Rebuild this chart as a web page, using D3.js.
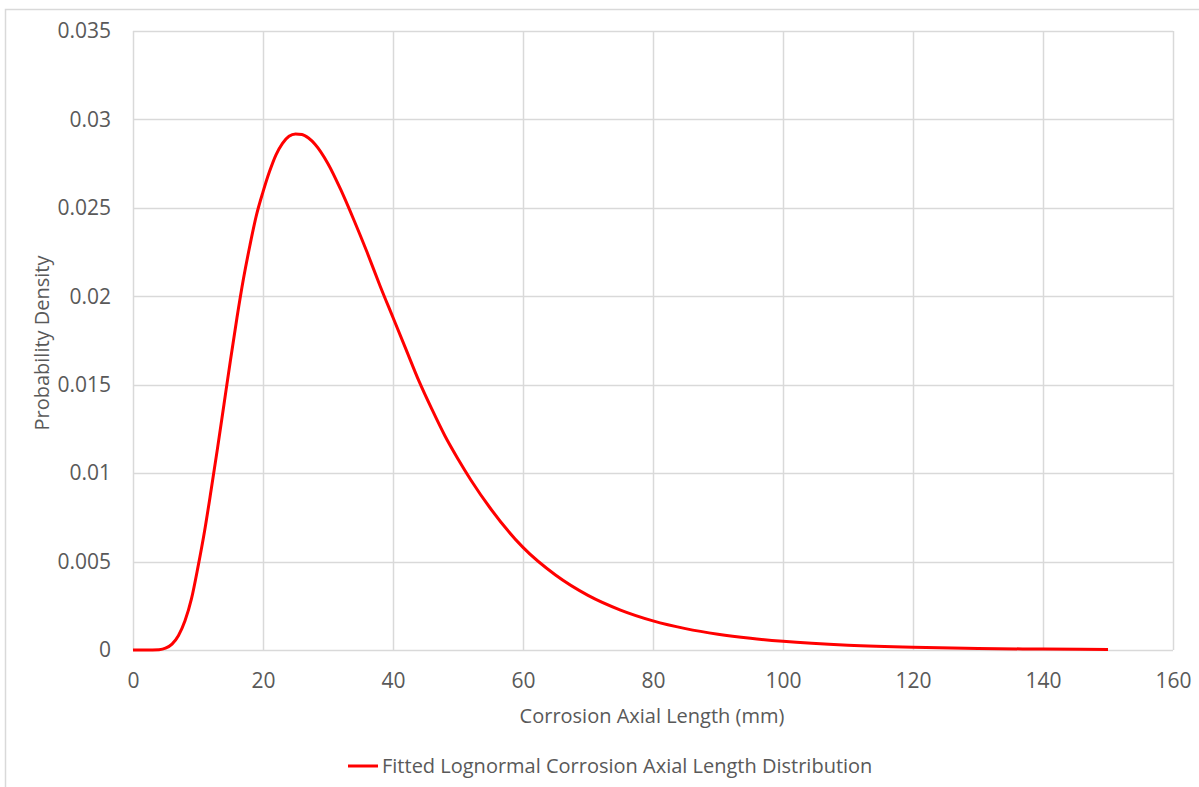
<!DOCTYPE html>
<html>
<head>
<meta charset="utf-8">
<script src="https://cdn.jsdelivr.net/npm/d3@7"></script>
<style>
  html, body { margin: 0; padding: 0; background: #ffffff; }
  svg { display: block; }
  text { font-family: "Open Sans", "Noto Sans", sans-serif; fill: #595959; }
</style>
</head>
<body>
<svg id="chart" width="1199" height="787"></svg>
<script>
// Fitted lognormal density of corrosion axial length (mm)
const axialLength = [0, 2, 4, 5, 6, 7, 8, 9, 10, 11, 12, 13, 14, 15, 16, 17, 18, 19, 20,
  21, 22, 23, 24, 25, 26, 27, 28, 30, 32, 34, 36, 38, 40, 42, 44, 46, 48, 50, 52, 55,
  60, 65, 70, 75, 80, 85, 90, 95, 100, 110, 120, 130, 140, 150];
const density = [0, 0, 0.00002, 0.0001, 0.00033, 0.00082, 0.00165, 0.0029, 0.0047, 0.0067,
  0.0090, 0.0114, 0.0139, 0.0164, 0.0188, 0.0210, 0.0229, 0.0246, 0.0259,
  0.02705, 0.0280, 0.02865, 0.02905, 0.02918, 0.02915, 0.02895, 0.0286, 0.0275, 0.0260,
  0.0243, 0.0225, 0.0206, 0.0188, 0.0170, 0.0152, 0.0136, 0.0121, 0.0108, 0.0096, 0.0080,
  0.0058, 0.00424, 0.00309, 0.00226, 0.00165, 0.00121, 0.00089, 0.00066, 0.00049,
  0.00027, 0.00015, 0.000087, 0.000051, 0.00003];

const xTicks = [0, 20, 40, 60, 80, 100, 120, 140, 160];
const yTicks = [0, 0.005, 0.01, 0.015, 0.02, 0.025, 0.03, 0.035];
const xTitle = "Corrosion Axial Length (mm)";
const yTitle = "Probability Density";
const seriesName = "Fitted Lognormal Corrosion Axial Length Distribution";

const svg = d3.select("#chart");
const plot = { left: 133, right: 1173, top: 31, bottom: 650 };
const gridColor = "#d9d9d9";

// Chart frame
svg.append("rect")
  .attr("x", 5.5).attr("y", 9.5)
  .attr("width", 1250).attr("height", 900)
  .attr("fill", "#ffffff")
  .attr("stroke", gridColor).attr("stroke-width", 1.5);

const x = d3.scaleLinear().domain([0, 160]).range([plot.left, plot.right]);
const y = d3.scaleLinear().domain([0, 0.035]).range([plot.bottom, plot.top]);

// Gridlines
const grid = svg.append("g");
grid.selectAll("line.v").data(xTicks).join("line")
  .attr("class", "v")
  .attr("x1", d => Math.round(x(d)) + 0.5).attr("x2", d => Math.round(x(d)) + 0.5)
  .attr("y1", plot.top).attr("y2", plot.bottom)
  .attr("stroke", gridColor).attr("stroke-width", 1.5);
grid.selectAll("line.h").data(yTicks).join("line")
  .attr("class", "h")
  .attr("x1", plot.left).attr("x2", plot.right)
  .attr("y1", d => Math.round(y(d)) + 0.5).attr("y2", d => Math.round(y(d)) + 0.5)
  .attr("stroke", gridColor).attr("stroke-width", 1.5);

// Axes (labels only; lines come from the grid)
const xAxis = svg.append("g")
  .attr("transform", `translate(0,${plot.bottom})`)
  .call(d3.axisBottom(x).tickValues(xTicks).tickFormat(d3.format("d")).tickSize(0).tickPadding(23));
const yAxis = svg.append("g")
  .attr("transform", `translate(${plot.left},0)`)
  .call(d3.axisLeft(y).tickValues(yTicks).tickFormat(d => d === 0 ? "0" : String(+d.toFixed(3))).tickSize(0).tickPadding(22));
[xAxis, yAxis].forEach(g => {
  g.select(".domain").remove();
  g.selectAll("text").attr("font-size", 21).attr("fill", "#595959")
    .attr("font-family", "'Open Sans', 'Noto Sans', sans-serif");
});

// Density curve
const line = d3.line()
  .x((d, i) => x(axialLength[i]))
  .y(d => y(d))
  .curve(d3.curveMonotoneX);
svg.append("path")
  .datum(density)
  .attr("d", line)
  .attr("fill", "none")
  .attr("stroke", "#ff0000")
  .attr("stroke-width", 3)
  .attr("stroke-linejoin", "round");

// Axis titles
svg.append("text")
  .attr("x", 652).attr("y", 723)
  .attr("text-anchor", "middle").attr("font-size", 20)
  .text(xTitle);
svg.append("text")
  .attr("transform", `translate(49,343) rotate(-90)`)
  .attr("text-anchor", "middle").attr("font-size", 20)
  .text(yTitle);

// Legend
const legend = svg.append("g").attr("transform", "translate(348,766)");
legend.append("line")
  .attr("x1", 0).attr("x2", 30).attr("y1", 0).attr("y2", 0)
  .attr("stroke", "#ff0000").attr("stroke-width", 3);
legend.append("text")
  .attr("x", 34).attr("y", 7)
  .attr("font-size", 20)
  .text(seriesName);
</script>
</body>
</html>
